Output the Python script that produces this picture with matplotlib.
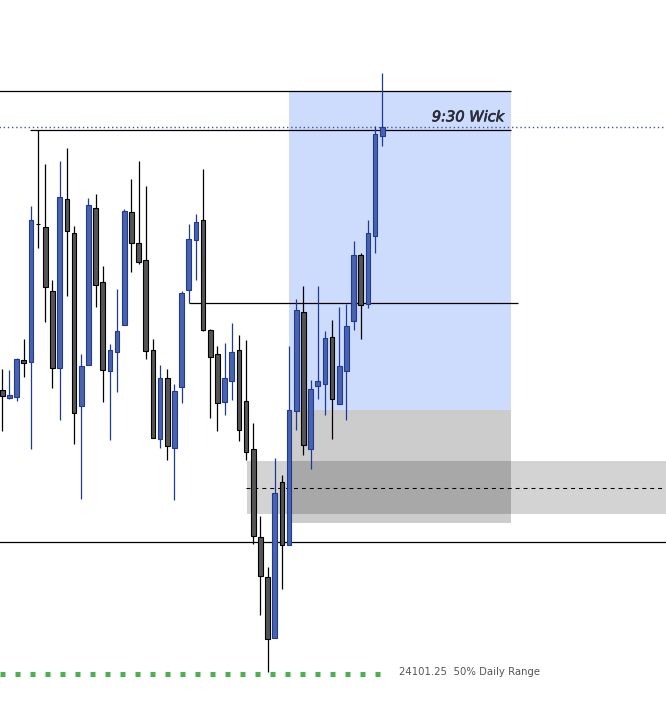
import matplotlib
matplotlib.use("Agg")
import matplotlib.pyplot as plt
import matplotlib.patheffects as pe
import numpy as np

# ---- data (prices) ----
opens = [24243.25, 24239.25, 24239.75, 24258.00, 24257.25, 24326.25, 24324.75, 24292.75, 24254.25, 24338.75,
         24321.75, 24235.25, 24255.75, 24334.25, 24297.25, 24252.75, 24262.25, 24275.75, 24332.25, 24316.75,
         24308.25, 24263.25, 24218.75, 24249.25, 24214.25, 24244.75, 24293.25, 24318.25, 24328.25, 24273.25,
         24261.25, 24237.25, 24247.75, 24263.25, 24237.75, 24213.75, 24169.75, 24149.75, 24119.25, 24197.25,
         24165.75, 24232.75, 24282.25, 24213.75, 24245.25, 24246.25, 24269.75, 24236.25, 24252.75, 24277.75,
         24310.75, 24286.25, 24320.25, 24370.25]
highs = [24253.75, 24253.00, 24259.25, 24268.75, 24335.00, 24373.25, 24356.00, 24298.00, 24357.50, 24364.00,
         24325.25, 24261.00, 24339.25, 24341.00, 24305.25, 24266.00, 24293.50, 24333.75, 24348.50, 24357.50,
         24345.00, 24268.75, 24255.75, 24253.75, 24246.25, 24292.75, 24326.00, 24331.25, 24353.75, 24273.75,
         24265.00, 24266.75, 24276.75, 24270.75, 24268.25, 24226.75, 24180.25, 24154.75, 24209.25, 24200.75,
         24265.25, 24288.75, 24295.25, 24248.25, 24295.25, 24272.75, 24278.25, 24284.75, 24286.25, 24317.75,
         24311.75, 24328.25, 24375.25, 24401.75]
lows = [24222.75, 24238.75, 24237.75, 24249.75, 24213.50, 24314.25, 24277.25, 24244.25, 24228.25, 24290.25,
        24216.25, 24188.50, 24255.75, 24284.75, 24237.25, 24218.25, 24242.25, 24275.75, 24302.25, 24306.25,
        24258.75, 24219.25, 24214.25, 24208.25, 24188.25, 24236.75, 24286.75, 24298.25, 24272.75, 24229.25,
        24222.75, 24230.75, 24238.25, 24217.75, 24208.25, 24166.25, 24130.75, 24102.00, 24119.25, 24143.75,
        24165.75, 24223.25, 24210.75, 24203.75, 24238.75, 24230.75, 24218.75, 24236.25, 24228.25, 24273.25,
        24268.75, 24284.25, 24311.75, 24365.25]
closes = [24240.00, 24240.75, 24258.75, 24256.75, 24328.25, 24326.25, 24294.75, 24254.25, 24339.75, 24322.75,
          24231.75, 24255.25, 24335.75, 24295.75, 24253.25, 24263.25, 24272.75, 24332.75, 24316.75, 24307.25,
          24262.75, 24219.25, 24249.25, 24215.25, 24242.75, 24291.75, 24318.75, 24327.25, 24273.25, 24259.75,
          24236.75, 24249.25, 24262.25, 24223.25, 24212.25, 24170.25, 24150.25, 24118.75, 24191.75, 24165.75,
          24233.25, 24283.25, 24215.75, 24243.75, 24247.75, 24269.25, 24238.75, 24255.25, 24275.25, 24310.75,
          24285.75, 24321.75, 24371.25, 24374.75]

# key levels
range_high = 24392.75
prior_high = 24373.25
wick_930 = 24374.75
mid_level = 24286.75
box_low = 24233.25
gap_low = 24176.75
zone_top = 24207.50
zone_bottom = 24181.00
zone_mid = 24194.25
support = 24167.25
daily_50 = 24101.25
daily_50_label = "24101.25  50% Daily Range"
wick_label = "9:30 Wick"

UP_FILL, UP_EDGE = "#4a63ae", "#1f3a8f"
DN_FILL, DN_EDGE = "#555555", "#000000"

fig = plt.figure(figsize=(6.66, 7.01), dpi=100)
ax = fig.add_axes([0, 0, 1, 1])
ax.set_xlim(-0.321, 92.56)
ax.set_ylim(24087.5, 24438.0)
ax.axis("off")

n = len(opens)
x = np.arange(n)
o = np.array(opens); h = np.array(highs); l = np.array(lows); c = np.array(closes)
up = c > o

# boxes
ax.fill_between([40, 70.9], box_low, range_high, color="#cddcfd", lw=0, zorder=1)
ax.fill_between([40, 70.9], gap_low, box_low, color="#cccccc", lw=0, zorder=1)
ax.fill_between([34.1, 93], zone_bottom, zone_top, color="black", alpha=0.173, lw=0, zorder=1.5)

# lines
ax.hlines(range_high, -1, 70.9, color="black", lw=0.9, zorder=2)
ax.hlines(prior_high, 3.9, 70.9, color="black", lw=0.9, zorder=2)
ax.hlines(wick_930, -1, 93, color="#3f51b5", lw=1.0, linestyles=(0, (1, 2)), zorder=2)
ax.hlines(mid_level, 26, 71.9, color="black", lw=0.9, zorder=2)
ax.hlines(zone_mid, 34.0, 93, color="black", lw=0.75, linestyles=(0, (3.8, 3.8)), zorder=2)
ax.hlines(support, -1, 93, color="black", lw=0.9, zorder=2)
ax.hlines(daily_50, -0.3, 52.7, color="#4caf50", lw=3.6, linestyles=(0, (1, 2.0)), zorder=2,
          capstyle="butt")

# candles
wick_colors = [UP_EDGE if u else DN_EDGE for u in up]
ax.vlines(x, l, h, colors=wick_colors, lw=0.9, zorder=3)
bottoms = np.minimum(o, c)
heights = np.abs(c - o)
ax.bar(x, heights, bottom=bottoms, width=0.65,
       color=[UP_FILL if u else DN_FILL for u in up],
       edgecolor=[UP_EDGE if u else DN_EDGE for u in up], linewidth=0.8, zorder=4)

# texts
ax.text(70, 24379.6, wick_label, ha="right", va="center", fontsize=10.5, style="italic",
        color="#2a2e39", family="DejaVu Sans", zorder=5,
        path_effects=[pe.withStroke(linewidth=0.5, foreground="#2a2e39")])
ax.text(55.3, daily_50 + 0.8, daily_50_label, ha="left", va="center", fontsize=7.25,
        color="#555555", family="DejaVu Sans", zorder=5)

fig.savefig("out.png", dpi=100)
